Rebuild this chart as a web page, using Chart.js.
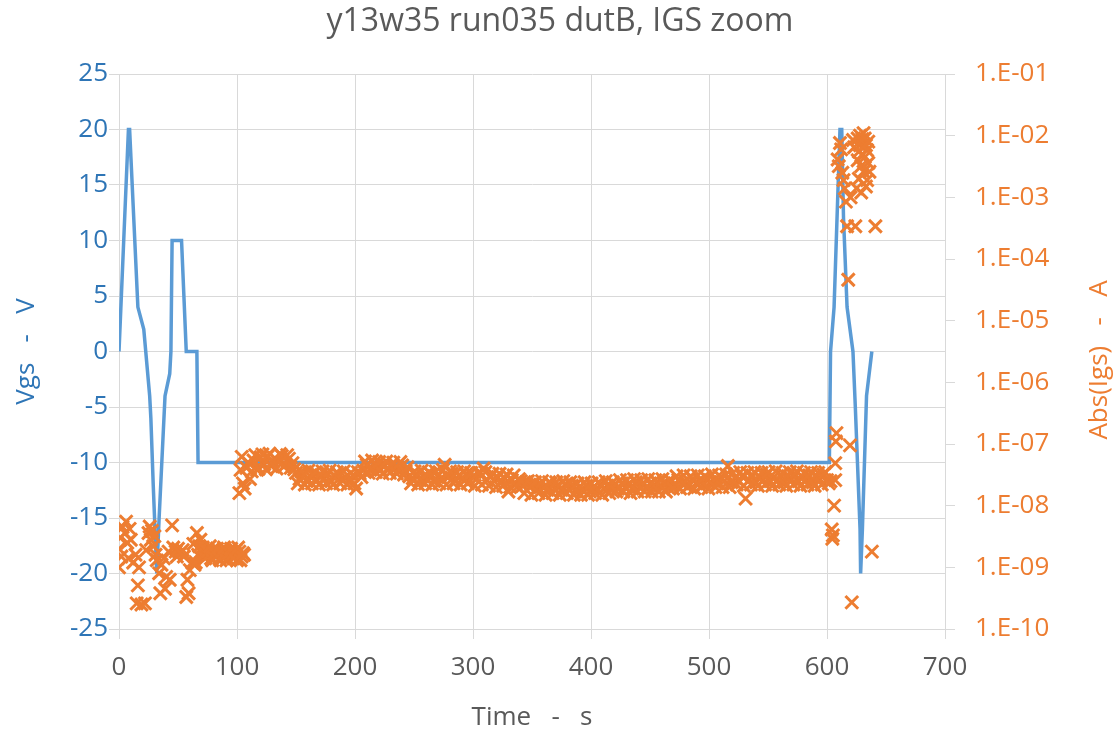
<!DOCTYPE html>
<html><head><meta charset="utf-8">
<script src="https://cdn.jsdelivr.net/npm/chart.js@4/dist/chart.umd.min.js"></script>
<style>html,body{margin:0;padding:0;background:#fff}#wrap{width:1120px;height:734px}</style>
</head><body><div id="wrap"><canvas id="c" width="1120" height="734"></canvas></div>
<script>
// ---- data ----
const chartTitle = 'y13w35 run035 dutB, IGS zoom';
const xTitle = 'Time   -   s';
const yLeftTitle = 'Vgs   -   V';
const yRightTitle = 'Abs(Igs)   -   A';

const vgsTime = [0, 4, 8, 9, 16, 21, 26, 27, 29, 32, 34, 39, 43, 44, 45, 53, 57, 66, 67, 602, 603, 606, 611, 612.5, 614, 617, 622, 624, 628, 628.5, 630, 633.5, 638];
const vgsVal  = [0, 10, 20, 20, 4, 2, -4, -6, -12, -20, -15, -4, -2, 0, 10, 10, 0, 0, -10, -10, 0, 4, 20, 20, 12, 4, 0, -5, -16, -20, -16, -4, 0];

const igsTime = [
  0, 0, 1, 2, 3, 5, 6, 7, 8, 9, 10, 12, 14, 15, 16, 17, 19, 22, 23, 25, 26, 27, 28, 29, 30, 31, 32, 34, 35, 36, 38, 39, 40, 42, 43, 45, 46, 48, 49, 50, 52, 54, 55, 57, 58, 59, 60, 62, 64, 66, 67, 69, 70, 72, 74, 76, 78, 80, 82, 84, 86, 88, 90, 92, 94, 96, 98, 100, 102, 104, 106,
  102, 103, 104,
  105, 108, 111, 114, 117, 120, 123, 126, 129, 132, 135, 138, 141, 144, 147,
  150, 153, 156, 159, 162, 165, 168, 171, 174, 177, 180, 183, 186, 189, 192, 195, 198, 201, 204, 207,
  210, 213, 216, 219, 222, 225, 228, 231, 234, 237, 240, 243, 246,
  249, 252, 255, 258, 261, 264, 267, 270, 273, 276, 279, 282, 285, 288, 291, 294, 297, 300,
  303, 306, 309, 312, 315, 318, 321, 324, 327, 330, 333, 336, 339,
  342, 345, 348, 351, 354, 357, 360, 363, 366, 369, 372, 375, 378, 381, 384, 387, 390, 393, 396, 399, 402, 405, 408, 411, 414, 417,
  420, 423, 426, 429, 432, 435, 438, 441, 444, 447, 450, 453, 456, 459, 462, 465, 468,
  471, 474, 477, 480, 483, 486, 489, 492, 495, 498, 501, 504, 507, 510, 513, 516, 519,
  522, 525, 528, 531, 534, 537, 540, 543, 546, 549, 552, 555, 558, 561, 564, 567, 570, 573, 576, 579, 582, 585, 588, 591, 594, 597, 600,
  603, 604, 604.5, 605, 606, 607, 607, 607.5, 608, 619.5, 621, 638,
  609, 610, 611, 612, 613, 614, 615, 616, 617, 618, 620, 622, 623, 624, 625, 626, 626, 627, 627, 628, 628, 629, 629, 630, 630, 631, 631, 631, 632, 632, 633, 633, 634, 634, 635, 635, 636, 641
];
const igsVal = [
  1.0e-9, 2.0e-9, 3.0e-9, 1.5e-9, 4.5e-9, 3.6e-9, 5.5e-9, 2.5e-9, 1.4e-9, 4.2e-9, 2.8e-9, 1.2e-9, 1.6e-9, 2.6e-10, 5.1e-10, 1.0e-9, 2.5e-10, 2.6e-10, 1.9e-9, 3.6e-9, 4.6e-9, 2.8e-9, 3.9e-9, 2.2e-9, 3.2e-9, 1.6e-9, 1.3e-9, 8.0e-10, 3.8e-10, 1.1e-9, 1.4e-9, 4.5e-10, 7.0e-10, 1.8e-9, 6.3e-10, 4.8e-9, 2.1e-9, 1.8e-9, 1.5e-9, 2.0e-9, 1.7e-9, 1.9e-9, 1.5e-9, 3.3e-10, 6.3e-10, 3.8e-10, 9.0e-10, 1.2e-9, 1.1e-9, 3.6e-9, 1.6e-9, 2.8e-9, 1.8e-9, 1.5e-9, 2.0e-9, 1.6e-9, 1.4e-9, 1.9e-9, 1.5e-9, 1.7e-9, 1.3e-9, 1.9e-9, 1.6e-9, 1.4e-9, 1.8e-9, 1.5e-9, 1.7e-9, 1.3e-9, 1.8e-9, 1.5e-9, 1.6e-9,
  1.6e-8, 3.8e-8, 6.2e-8,
  2.3e-8, 4.1e-8, 2.7e-8, 5.4e-8, 3.8e-8, 6.1e-8, 4.7e-8, 6.3e-8, 4.4e-8, 5.9e-8, 5.1e-8, 6.4e-8, 4.6e-8, 5.8e-8, 4.9e-8,
  3.4e-8, 2.7e-8, 3.3e-8, 2.5e-8, 3.0e-8, 3.4e-8, 2.6e-8, 3.1e-8, 2.8e-8, 3.3e-8, 2.5e-8, 3.0e-8, 3.2e-8, 2.6e-8, 2.9e-8, 2.4e-8, 3.1e-8, 1.9e-8, 3.3e-8, 3.7e-8,
  4.6e-8, 4.0e-8, 4.9e-8, 4.2e-8, 3.8e-8, 4.6e-8, 3.9e-8, 4.4e-8, 4.1e-8, 3.7e-8, 4.5e-8, 3.6e-8, 3.0e-8,
  2.8e-8, 3.2e-8, 2.6e-8, 3.0e-8, 2.7e-8, 3.3e-8, 2.5e-8, 3.0e-8, 2.8e-8, 4.6e-8, 2.9e-8, 3.3e-8, 2.6e-8, 3.1e-8, 2.7e-8, 3.2e-8, 2.5e-8, 3.0e-8,
  2.7e-8, 3.4e-8, 4.0e-8, 2.6e-8, 3.0e-8, 2.5e-8, 2.9e-8, 2.4e-8, 2.8e-8, 1.7e-8, 2.6e-8, 2.3e-8, 2.7e-8,
  2.1e-8, 2.4e-8, 2.0e-8, 2.3e-8, 1.9e-8, 2.2e-8, 2.0e-8, 1.8e-8, 2.3e-8, 1.9e-8, 2.1e-8, 1.8e-8, 2.2e-8, 1.9e-8, 2.1e-8, 1.7e-8, 2.0e-8, 1.8e-8, 2.1e-8, 1.7e-8, 2.0e-8, 1.8e-8, 2.2e-8, 1.9e-8, 2.1e-8, 1.8e-8,
  2.2e-8, 1.9e-8, 2.3e-8, 2.0e-8, 2.2e-8, 1.9e-8, 2.4e-8, 2.0e-8, 2.2e-8, 1.9e-8, 2.3e-8, 2.0e-8, 2.4e-8, 2.1e-8, 2.3e-8, 2.0e-8, 2.5e-8,
  2.2e-8, 2.6e-8, 2.3e-8, 2.5e-8, 2.1e-8, 2.7e-8, 2.3e-8, 2.6e-8, 2.2e-8, 2.8e-8, 2.4e-8, 2.6e-8, 2.3e-8, 2.9e-8, 2.5e-8, 4.4e-8, 2.4e-8,
  2.8e-8, 2.5e-8, 3.0e-8, 1.3e-8, 2.6e-8, 3.1e-8, 2.4e-8, 2.9e-8, 2.6e-8, 3.2e-8, 2.5e-8, 2.9e-8, 2.6e-8, 3.1e-8, 2.4e-8, 3.0e-8, 2.7e-8, 3.2e-8, 2.5e-8, 2.9e-8, 2.6e-8, 3.1e-8, 2.4e-8, 3.0e-8, 2.7e-8, 3.2e-8, 2.6e-8,
  2.5e-8, 4.1e-9, 2.9e-9, 3.3e-9, 1.0e-8, 2.6e-8, 4.9e-8, 1.1e-7, 1.5e-7, 9.5e-8, 2.7e-10, 1.8e-9,
  4.1e-3, 3.2e-3, 7.6e-3, 6.0e-3, 2.5e-3, 1.9e-3, 1.4e-3, 8.5e-4, 3.4e-4, 4.6e-5, 1.0e-3, 8.5e-3, 6.5e-3, 3.4e-4, 1.4e-3, 9.0e-3, 4.0e-3, 5.5e-3, 2.0e-3, 1.0e-2, 7.0e-3, 3.2e-3, 1.2e-3, 8.8e-3, 5.0e-3, 1.1e-2, 6.8e-3, 2.6e-3, 9.0e-3, 4.5e-3, 7.0e-3, 1.5e-3, 5.8e-3, 1.9e-3, 8.0e-3, 3.6e-3, 2.6e-3, 3.4e-4
];

// readings taken between the ones above (early cluster and the long -10 V band)
const igsTime2 = [
  63, 65, 68, 71, 73, 75, 77, 79, 81, 83, 85, 87, 89, 91, 93, 95, 97, 99, 101, 103, 105,
  106.5, 109.5, 112.5, 115.5, 118.5, 121.5, 124.5, 127.5, 130.5, 133.5, 136.5, 139.5, 142.5, 145.5, 148.5,
  151.5, 154.5, 157.5, 160.5, 163.5, 166.5, 169.5, 172.5, 175.5, 178.5, 181.5, 184.5, 187.5, 190.5, 193.5, 196.5, 199.5, 202.5, 205.5,
  208.5, 211.5, 214.5, 217.5, 220.5, 223.5, 226.5, 229.5, 232.5, 235.5, 238.5, 241.5, 244.5,
  247.5, 250.5, 253.5, 256.5, 259.5, 262.5, 265.5, 268.5, 271.5, 274.5, 277.5, 280.5, 283.5, 286.5, 289.5, 292.5, 295.5, 298.5,
  301.5, 304.5, 307.5, 310.5, 313.5, 316.5, 319.5, 322.5, 325.5, 328.5, 331.5, 334.5, 337.5,
  340.5, 343.5, 346.5, 349.5, 352.5, 355.5, 358.5, 361.5, 364.5, 367.5, 370.5, 373.5, 376.5, 379.5, 382.5, 385.5, 388.5, 391.5, 394.5, 397.5, 400.5, 403.5, 406.5, 409.5, 412.5, 415.5, 418.5,
  421.5, 424.5, 427.5, 430.5, 433.5, 436.5, 439.5, 442.5, 445.5, 448.5, 451.5, 454.5, 457.5, 460.5, 463.5, 466.5, 469.5,
  472.5, 475.5, 478.5, 481.5, 484.5, 487.5, 490.5, 493.5, 496.5, 499.5, 502.5, 505.5, 508.5, 511.5, 514.5, 517.5,
  520.5, 523.5, 526.5, 529.5, 532.5, 535.5, 538.5, 541.5, 544.5, 547.5, 550.5, 553.5, 556.5, 559.5, 562.5, 565.5, 568.5, 571.5, 574.5, 577.5, 580.5, 583.5, 586.5, 589.5, 592.5, 595.5, 598.5, 601.5
];
const igsVal2 = [
  2.4e-9, 1.2e-9, 2.2e-9, 2.1e-9, 1.4e-9, 1.8e-9, 2.2e-9, 1.3e-9, 1.7e-9, 2.0e-9, 1.4e-9, 1.8e-9, 2.1e-9, 1.3e-9, 1.7e-9, 2.0e-9, 1.4e-9, 1.9e-9, 2.1e-9, 1.3e-9, 1.7e-9,
  1.9e-8, 5.0e-8, 3.6e-8, 6.6e-8, 4.0e-8, 6.8e-8, 3.9e-8, 7.0e-8, 5.2e-8, 4.0e-8, 6.9e-8, 4.3e-8, 6.6e-8, 4.1e-8, 3.9e-8,
  2.3e-8, 3.6e-8, 2.2e-8, 3.7e-8, 2.3e-8, 3.5e-8, 2.2e-8, 3.6e-8, 2.3e-8, 3.7e-8, 2.2e-8, 3.5e-8, 2.3e-8, 3.6e-8, 2.2e-8, 3.4e-8, 2.3e-8, 3.5e-8, 2.9e-8,
  5.2e-8, 3.4e-8, 5.4e-8, 3.5e-8, 5.1e-8, 3.3e-8, 5.2e-8, 3.4e-8, 5.0e-8, 3.3e-8, 5.1e-8, 3.2e-8, 4.2e-8,
  2.3e-8, 3.6e-8, 2.2e-8, 3.7e-8, 2.3e-8, 3.5e-8, 2.2e-8, 3.6e-8, 2.3e-8, 3.8e-8, 2.2e-8, 3.6e-8, 2.3e-8, 3.5e-8, 2.2e-8, 3.6e-8, 2.3e-8, 3.4e-8,
  2.1e-8, 3.4e-8, 2.2e-8, 3.5e-8, 2.1e-8, 3.3e-8, 2.0e-8, 3.3e-8, 2.1e-8, 3.2e-8, 2.0e-8, 3.1e-8, 2.0e-8,
  2.5e-8, 1.6e-8, 2.5e-8, 1.5e-8, 2.4e-8, 1.6e-8, 2.5e-8, 1.5e-8, 2.4e-8, 1.6e-8, 2.4e-8, 1.5e-8, 2.5e-8, 1.6e-8, 2.4e-8, 1.5e-8, 2.3e-8, 1.5e-8, 2.4e-8, 1.5e-8, 2.3e-8, 1.6e-8, 2.4e-8, 1.5e-8, 2.5e-8, 1.6e-8, 2.4e-8,
  1.7e-8, 2.6e-8, 1.7e-8, 2.6e-8, 1.6e-8, 2.7e-8, 1.7e-8, 2.6e-8, 1.7e-8, 2.7e-8, 1.7e-8, 2.6e-8, 1.7e-8, 2.7e-8, 1.7e-8, 2.6e-8, 1.9e-8,
  3.0e-8, 1.9e-8, 3.1e-8, 2.0e-8, 3.0e-8, 1.9e-8, 3.1e-8, 2.0e-8, 3.0e-8, 1.9e-8, 3.2e-8, 2.0e-8, 3.1e-8, 2.0e-8, 3.2e-8, 2.0e-8,
  3.4e-8, 2.2e-8, 3.5e-8, 2.1e-8, 3.4e-8, 2.2e-8, 3.5e-8, 2.1e-8, 3.4e-8, 2.2e-8, 3.5e-8, 2.1e-8, 3.6e-8, 2.2e-8, 3.4e-8, 2.1e-8, 3.5e-8, 2.2e-8, 3.6e-8, 2.1e-8, 3.4e-8, 2.2e-8, 3.5e-8, 2.1e-8, 3.4e-8, 2.2e-8, 3.5e-8, 2.3e-8
];

const xMin = 0, xMax = 700, xStep = 100;
const yLeftMin = -25, yLeftMax = 25, yLeftStep = 5;
const yRightDecades = [1e-10, 1e-9, 1e-8, 1e-7, 1e-6, 1e-5, 1e-4, 1e-3, 1e-2, 1e-1];

// ---- style ----
const BLUE = '#5B9BD5', BLUE_TXT = '#2E75B6', ORANGE = '#ED7D31', GRAY_TXT = '#595959', GRID = '#D9D9D9';
const FONT = '"Open Sans", "Noto Sans", sans-serif';

const rightTitlePlugin = {
  id: 'rightTitle',
  afterDraw(chart) {
    const ctx = chart.ctx;
    ctx.save();
    ctx.font = '26px ' + FONT;
    ctx.fillStyle = ORANGE;
    ctx.textAlign = 'center';
    ctx.textBaseline = 'middle';
    ctx.translate(1100, 360);
    ctx.rotate(-Math.PI / 2);
    ctx.fillText(yRightTitle, 0, 0);
    ctx.restore();
  }
};

const allIgsTime = igsTime.concat(igsTime2);
const allIgsVal = igsVal.concat(igsVal2);

new Chart(document.getElementById('c'), {
  type: 'scatter',
  data: {
    datasets: [
      {
        label: 'Abs(Igs)',
        yAxisID: 'y2',
        data: allIgsTime.map((t, i) => ({x: t, y: allIgsVal[i]})),
        pointStyle: 'crossRot',
        pointRadius: 9,
        pointBorderWidth: 3,
        borderColor: ORANGE,
        backgroundColor: ORANGE,
        showLine: false,
        order: 0
      },
      {
        type: 'line',
        label: 'Vgs',
        yAxisID: 'y',
        data: vgsTime.map((t, i) => ({x: t, y: vgsVal[i]})),
        borderColor: BLUE,
        borderWidth: 3.5,
        pointRadius: 0,
        tension: 0,
        fill: false,
        order: 1
      }
    ]
  },
  options: {
    responsive: false,
    animation: false,
    devicePixelRatio: 1,
    layout: { padding: 0 },
    plugins: {
      legend: { display: false },
      tooltip: { enabled: false },
      title: {
        display: true,
        text: chartTitle,
        color: GRAY_TXT,
        font: { family: FONT, size: 32, weight: 'normal' },
        padding: { top: 3, bottom: 32.6 }
      }
    },
    scales: {
      x: {
        type: 'linear',
        min: xMin, max: xMax,
        ticks: { stepSize: xStep, color: GRAY_TXT, font: { family: FONT, size: 26 }, padding: 13, maxRotation: 0 },
        grid: { color: GRID, tickLength: 10 },
        border: { color: GRID },
        title: { display: true, text: xTitle, color: GRAY_TXT, font: { family: FONT, size: 26 }, padding: { top: 0, bottom: 1 } },
        afterFit(s) { s.height = 105; }
      },
      y: {
        position: 'left',
        min: yLeftMin, max: yLeftMax,
        ticks: { stepSize: yLeftStep, color: BLUE_TXT, font: { family: FONT, size: 26 }, padding: 1 },
        grid: { color: GRID, tickLength: 10 },
        border: { color: GRID },
        title: { display: true, text: yLeftTitle, color: BLUE_TXT, font: { family: FONT, size: 26 }, padding: { top: 11, bottom: 0 } },
        afterFit(s) { s.width = 119; }
      },
      y2: {
        type: 'logarithmic',
        position: 'right',
        min: yRightDecades[0], max: yRightDecades[yRightDecades.length - 1],
        afterBuildTicks(s) { s.ticks = yRightDecades.map(v => ({ value: v, major: true })); },
        ticks: {
          color: ORANGE, font: { family: FONT, size: 26 }, padding: 20, autoSkip: false,
          callback(v) {
            const e = Math.round(Math.log10(v));
            const a = Math.abs(e);
            return '1.E' + (e < 0 ? '-' : '+') + (a < 10 ? '0' + a : a);
          }
        },
        grid: { drawOnChartArea: false, color: GRID, tickLength: 10 },
        border: { color: GRID },
        afterFit(s) { s.width = 175; }
      }
    }
  },
  plugins: [rightTitlePlugin]
});
</script>
</body></html>
